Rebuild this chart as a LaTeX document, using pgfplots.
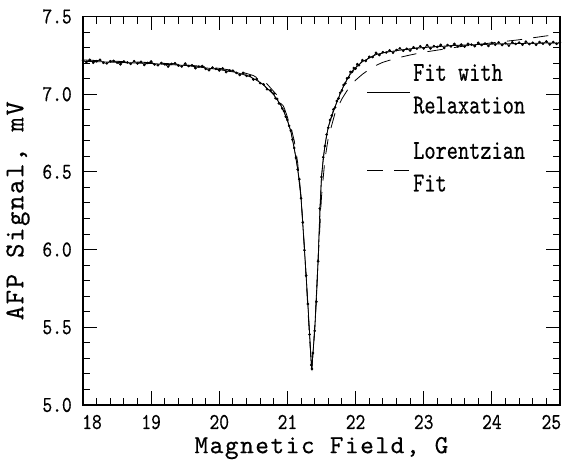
\documentclass[border=0pt]{standalone}
\usepackage{fontspec}
\setmainfont{lmmono10-regular.otf}
\newfontfamily\tickfont[FakeStretch=0.82, FakeBold=0.4]{lmmono10-regular.otf}
\newfontfamily\legfont[FakeStretch=0.78, FakeBold=0.4]{lmmono10-regular.otf}
\newfontfamily\labfont[LetterSpace=6, FakeBold=0.4]{lmmono10-regular.otf}
\usepackage{pgfplots}
\pgfplotsset{compat=1.18}

\begin{document}
\begin{tikzpicture}
\useasboundingbox (0,0) rectangle (423.75pt,352.5pt);
\begin{axis}[
    at={(62.25pt,48.75pt)}, anchor=south west,
    scale only axis, width=357.75pt, height=291.4pt,
    xmin=18, xmax=25, ymin=5, ymax=7.5,
    xtick={18,...,25}, ytick={5,5.5,...,7.5},
    minor x tick num=4, minor y tick num=4,
    tick align=inside,
    major tick length=10.5pt, minor tick length=5.5pt,
    axis line style={line width=1.1pt},
    every tick/.style={black, line width=0.7pt},
    xticklabels={{\hspace*{13.5pt}18},19,20,21,22,23,24,{25\hspace*{13pt}}},
    xticklabel style={font=\tickfont\fontsize{17}{18}\selectfont, anchor=base, inner sep=0pt, yshift=-18pt},
    yticklabel style={font=\tickfont\fontsize{17}{18}\selectfont, anchor=east, inner sep=0pt, xshift=-8.25pt,
        /pgf/number format/.cd, fixed, fixed zerofill, precision=1, assume math mode=true},
    xlabel={Magnetic Field, G},
    xlabel style={font=\labfont\fontsize{19.5}{22}\selectfont, inner sep=0pt, at={(axis description cs:0.5,-0.124)}, anchor=base},
    ylabel={AFP Signal, mV},
    ylabel style={font=\labfont\fontsize{20.5}{24}\selectfont, at={(axis description cs:-0.1363,0.5)}, anchor=center},
    legend style={at={(axis description cs:0.595,0.885)}, anchor=north west, draw=none, fill=none,
        font=\legfont\fontsize{20.5}{24.5}\selectfont, row sep=16pt, cells={align=left}, inner sep=0pt},
    legend cell align=left,
    legend image code/.code={\draw[#1] (0pt,-2pt) -- (32pt,-2pt);},
]
% measured signal
\addplot[black, line width=0.45pt, mark=*, mark size=0.75pt, forget plot] coordinates {
(18.00,7.218)(18.05,7.207)(18.10,7.221)(18.15,7.202)(18.20,7.212)(18.25,7.221)(18.30,7.202)(18.35,7.198)
(18.40,7.211)(18.45,7.214)(18.50,7.203)(18.55,7.192)(18.60,7.210)(18.65,7.204)(18.70,7.195)(18.75,7.212)
(18.80,7.197)(18.85,7.208)(18.90,7.188)(18.95,7.201)(19.00,7.210)(19.05,7.191)(19.10,7.186)(19.15,7.201)
(19.20,7.192)(19.25,7.178)(19.30,7.195)(19.35,7.199)(19.40,7.184)(19.45,7.178)(19.50,7.197)(19.55,7.181)
(19.60,7.186)(19.65,7.167)(19.70,7.177)(19.75,7.181)(19.80,7.163)(19.85,7.154)(19.90,7.171)(19.95,7.163)
(20.00,7.153)(20.05,7.166)(20.10,7.142)(20.15,7.152)(20.20,7.151)(20.25,7.137)(20.30,7.123)(20.35,7.137)
(20.40,7.118)(20.45,7.118)(20.50,7.094)(20.55,7.098)(20.60,7.071)(20.65,7.063)(20.70,7.032)(20.75,7.024)
(20.800,7.003)(20.825,6.974)(20.850,6.969)(20.875,6.941)(20.900,6.936)(20.925,6.907)(20.950,6.892)
(20.975,6.855)(21.000,6.834)(21.025,6.796)(21.050,6.765)(21.075,6.707)(21.100,6.654)(21.125,6.590)
(21.150,6.516)(21.175,6.453)(21.200,6.330)(21.225,6.175)(21.250,5.996)(21.275,5.833)(21.300,5.650)
(21.325,5.454)(21.350,5.257)(21.360,5.232)(21.375,5.334)(21.400,5.477)(21.425,5.664)(21.450,5.925)
(21.475,6.264)(21.500,6.467)(21.525,6.594)(21.550,6.666)(21.575,6.740)(21.600,6.784)(21.625,6.834)
(21.650,6.862)(21.675,6.902)(21.700,6.915)(21.725,6.956)(21.750,6.973)(21.775,7.009)(21.800,7.024)
(21.825,7.059)(21.850,7.070)(21.875,7.102)(21.900,7.107)(21.925,7.143)(21.950,7.144)(21.975,7.168)
(22.000,7.164)(22.025,7.193)(22.050,7.186)
(22.10,7.219)(22.15,7.214)(22.20,7.240)(22.25,7.239)(22.30,7.266)(22.35,7.252)(22.40,7.270)(22.45,7.268)
(22.50,7.282)(22.55,7.267)(22.60,7.284)(22.65,7.295)(22.70,7.279)(22.75,7.292)(22.80,7.281)(22.85,7.302)
(22.90,7.293)(22.95,7.308)(23.00,7.294)(23.05,7.315)(23.10,7.294)(23.15,7.309)(23.20,7.304)(23.25,7.317)
(23.30,7.297)(23.35,7.316)(23.40,7.307)(23.45,7.324)(23.50,7.307)(23.55,7.319)(23.60,7.306)(23.65,7.324)
(23.70,7.319)(23.75,7.309)(23.80,7.331)(23.85,7.316)(23.90,7.326)(23.95,7.310)(24.00,7.330)(24.05,7.319)
(24.10,7.333)(24.15,7.316)(24.20,7.328)(24.25,7.312)(24.30,7.334)(24.35,7.323)(24.40,7.332)(24.45,7.318)
(24.50,7.338)(24.55,7.322)(24.60,7.331)(24.65,7.318)(24.70,7.335)(24.75,7.325)(24.80,7.339)(24.85,7.320)
(24.90,7.335)(24.95,7.324)(25.00,7.334)
};
% fit with relaxation
\addplot[black, line width=0.6pt] coordinates {
(18,7.212)(18.5,7.205)(19,7.197)(19.5,7.185)(19.75,7.172)(20,7.158)(20.25,7.140)(20.45,7.113)
(20.55,7.089)(20.65,7.060)(20.75,7.018)(20.8,6.995)(20.85,6.965)(20.9,6.93)(20.95,6.885)(21.0,6.83)
(21.05,6.76)(21.1,6.65)(21.15,6.52)(21.2,6.33)(21.25,6.00)(21.3,5.65)(21.356,5.225)(21.4,5.48)
(21.45,5.93)(21.5,6.47)(21.55,6.67)(21.6,6.79)(21.7,6.92)(21.8,7.03)(21.9,7.115)(22.0,7.17)
(22.1,7.209)(22.2,7.232)(22.3,7.255)(22.45,7.27)(22.6,7.28)(22.8,7.292)(23.0,7.30)(23.5,7.315)
(24,7.322)(24.5,7.327)(25,7.33)
};
\addlegendentry{Fit with\\Relaxation}
% Lorentzian fit
\addplot[black, line width=0.6pt, dash pattern=on 11.5pt off 8.5pt] coordinates {
(18,7.220)(19,7.203)(19.5,7.190)(20,7.166)(20.3,7.146)(20.5,7.120)(20.7,7.066)(20.85,6.992)
(20.95,6.915)(21.05,6.79)(21.1,6.70)(21.15,6.56)(21.2,6.34)(21.25,6.01)(21.3,5.62)(21.33,5.40)
(21.356,5.24)(21.38,5.36)(21.41,5.57)(21.45,5.93)(21.5,6.34)(21.55,6.58)(21.6,6.72)(21.7,6.88)
(21.8,6.97)(21.9,7.04)(22.0,7.09)(22.1,7.128)(22.25,7.175)(22.4,7.205)(22.6,7.232)(22.8,7.252)
(23.0,7.27)(23.3,7.29)(23.6,7.31)(24.0,7.33)(24.4,7.35)(24.8,7.375)(25,7.385)
};
\addlegendentry{Lorentzian\\Fit}
\end{axis}
\end{tikzpicture}
\end{document}
